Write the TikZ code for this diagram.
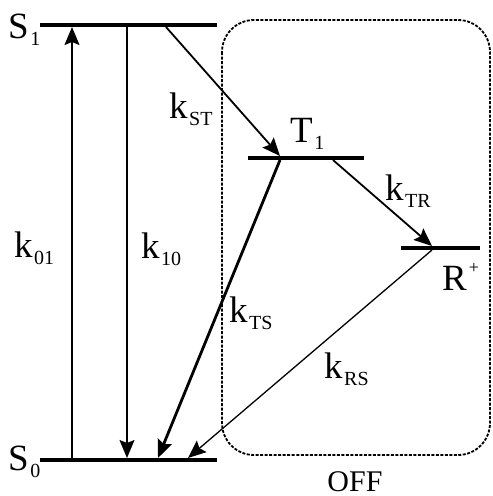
\documentclass[tikz,border=0pt]{standalone}
\usepackage{fontspec}
\setmainfont{Liberation Serif}
\usetikzlibrary{arrows.meta}
\newcommand\lvsub[1]{\kern1.5pt\raisebox{-0.2em}{\fontsize{20}{20}\selectfont #1}}
\newcommand\lvsup[1]{\kern2pt\raisebox{0.45em}{\fontsize{18}{18}\selectfont #1}}
\begin{document}
\begin{tikzpicture}[x=1pt,y=-1pt,
  level/.style={line width=4pt},
  lab/.style={inner sep=0pt,anchor=base west,font=\fontsize{37}{37}\selectfont},
  offlab/.style={inner sep=0pt,anchor=base,font=\fontsize{30}{30}\selectfont},
  tip/.style={-{Stealth[length=18pt,width=15pt,inset=3pt]}},
  thin arrow/.style={tip,line width=1.3pt},
  mid arrow/.style={tip,line width=1.8pt},
  thick arrow/.style={tip,line width=2.8pt},
  offbox/.style={line width=1.8pt,dash pattern=on 3pt off 1.5pt,rounded corners=32pt}]
\useasboundingbox (0,0) rectangle (493,496);
% dashed OFF region
\draw[offbox] (222,20) rectangle (490,455);
% levels
\coordinate (s1l) at (40,25); \coordinate (s1r) at (217,25);
\coordinate (s0l) at (40,460); \coordinate (s0r) at (217,460);
\coordinate (t1l) at (248,158); \coordinate (t1r) at (364,158);
\coordinate (rl) at (401,248); \coordinate (rr) at (480,248);
\draw[level] (s1l) -- (s1r);
\draw[level] (s0l) -- (s0r);
\draw[level] (t1l) -- (t1r);
\draw[level] (rl) -- (rr);
% connector end points
\coordinate (a01s) at (72,460); \coordinate (a01e) at (72,27);
\coordinate (a10s) at (127,27); \coordinate (a10e) at (127,458);
\coordinate (ast) at (166,27); \coordinate (aste) at (280,156);
\coordinate (atrs) at (333,160); \coordinate (atre) at (432,246);
\coordinate (atss) at (280,160); \coordinate (atse) at (158,458);
\coordinate (arss) at (432,250); \coordinate (arse) at (188,458);
\draw[thin arrow] (a01s) -- (a01e);
\draw[thin arrow] (a10s) -- (a10e);
\draw[mid arrow] (ast) -- (aste);
\draw[mid arrow] (atrs) -- (atre);
\draw[thick arrow] (atss) -- (atse);
\draw[thin arrow] (arss) -- (arse);
% labels
\node[lab] (ls1) at (8,38) {S\lvsub{1}};
\node[lab] (ls0) at (8,470) {S\lvsub{0}};
\node[lab] (lt1) at (290,142) {T\lvsub{1}};
\node[lab] (lr) at (442,290) {R\lvsup{+}};
\node[lab] (lst) at (169,118) {k\lvsub{ST}};
\node[lab] (ltr) at (385,200) {k\lvsub{TR}};
\node[lab] (lts) at (229,322) {k\lvsub{TS}};
\node[lab] (lrs) at (324,378) {k\lvsub{RS}};
\node[lab] (l01) at (14,257) {k\lvsub{01}};
\node[lab] (l10) at (141,258) {k\lvsub{10}};
\node[offlab] (loff) at (355,491) {OFF};
\end{tikzpicture}
\end{document}
